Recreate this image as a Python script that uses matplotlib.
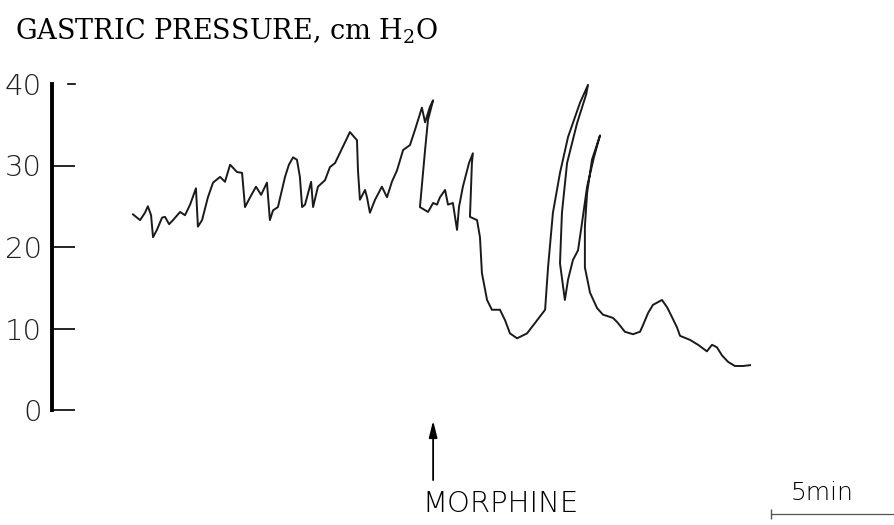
import matplotlib

matplotlib.use("Agg")
import matplotlib.pyplot as plt
import matplotlib.transforms as mtransforms

plt.rcParams["mathtext.fontset"] = "dejavuserif"

# gastric pressure trace (time in min from trace start, cm H2O)
# the pen writes on an arc, so time runs backwards a little on the fast down strokes
time_min = [
    0.00, 0.29, 0.49, 0.61, 0.74, 0.82, 0.98, 1.19, 1.31, 1.48, 1.64, 1.93, 2.13, 2.34,
    2.58, 2.66, 2.83, 3.07, 3.28, 3.57, 3.77, 3.98, 4.26, 4.47, 4.59, 4.80, 5.04, 5.25,
    5.49, 5.61, 5.74, 5.94, 6.23, 6.39, 6.56, 6.72, 6.84, 6.93, 7.05, 7.30, 7.38, 7.58,
    7.87, 8.07, 8.28, 8.57, 8.89, 9.18, 9.22, 9.30, 9.51, 9.59, 9.71, 9.92, 10.20, 10.41,
    10.61, 10.82, 11.07, 11.35, 11.56, 11.84, 11.97, 12.17, 12.30, 12.09, 11.97, 11.76,
    12.09, 12.30, 12.46, 12.58, 12.79, 12.91, 13.11, 13.28, 13.36, 13.52, 13.77, 13.93,
    13.89, 13.81, 14.10, 14.22, 14.30, 14.51, 14.71, 15.04, 15.25, 15.45, 15.74, 16.15,
    16.56, 16.89, 17.01, 17.21, 17.50, 17.83, 18.32, 18.65, 18.57, 18.20, 17.79, 17.58,
    17.50, 17.70, 17.83, 18.03, 18.24, 18.40, 18.61, 18.89, 19.14, 18.81, 18.61, 18.52,
    18.52, 18.73, 19.02, 19.26, 19.67, 19.84, 20.16, 20.49, 20.78, 20.90, 21.11, 21.31,
    21.68, 21.89, 22.09, 22.30, 22.42, 22.83, 23.16, 23.52, 23.73, 23.93, 24.14, 24.39,
    24.67, 25.00, 25.29,
]
pressure = [
    24.0, 23.3, 24.2, 25.0, 23.9, 21.2, 22.1, 23.6, 23.7, 22.8, 23.3, 24.3, 23.9, 25.2,
    27.2, 22.5, 23.3, 26.1, 27.9, 28.6, 28.0, 30.1, 29.2, 29.1, 24.9, 26.1, 27.4, 26.4,
    27.9, 23.3, 24.5, 24.9, 28.6, 30.1, 31.0, 30.7, 28.6, 24.9, 25.2, 28.0, 24.9, 27.4,
    28.2, 29.8, 30.3, 32.1, 34.1, 33.1, 29.4, 25.8, 27.0, 26.1, 24.2, 25.8, 27.4, 26.1,
    28.0, 29.4, 31.9, 32.5, 34.4, 37.1, 35.3, 37.2, 38.0, 35.6, 31.9, 24.9,
    24.3, 25.4, 25.2, 26.1, 27.0, 25.2, 25.4, 22.1, 24.9, 27.4, 30.3, 31.5,
    30.3, 23.7, 23.3, 21.2, 16.8, 13.5, 12.3, 12.3, 11.0, 9.4, 8.8, 9.4,
    11.0, 12.3, 17.5, 24.2, 29.1, 33.5, 37.7, 39.9, 38.7, 35.2, 30.3, 24.2,
    18.0, 13.5, 16.0, 18.4, 19.6, 22.9, 27.4, 31.0, 33.7, 30.7, 26.6, 22.5,
    17.5, 14.4, 12.5, 11.7, 11.3, 10.8, 9.6, 9.3, 9.6, 10.4, 11.9, 12.9,
    13.5, 12.6, 11.4, 10.1, 9.1, 8.6, 8.0, 7.2, 8.0, 7.7, 6.7, 5.9,
    5.4, 5.4, 5.5,
]

y_ticks = [0, 10, 20, 30, 40]
morphine_time = 12.30
scale_start = 26.15
scale_length = 5

fig = plt.figure(figsize=(8.95, 5.25), dpi=100)
ax = fig.add_axes([52 / 895, 115 / 525, 843 / 895, 326 / 525])

ax.plot(time_min, pressure, color="#1a1a1a", lw=1.4, solid_joinstyle="round")

ax.set_xlim(-3.32, 31.23)
ax.set_ylim(0, 40)
for side in ("top", "right", "bottom"):
    ax.spines[side].set_visible(False)
ax.spines["left"].set_linewidth(2.8)
ax.set_xticks([])
ax.set_yticks(y_ticks)
ax.set_yticklabels([str(v) for v in y_ticks], family="DejaVu Sans", fontweight="light",
                   fontsize=21, color="#222222")
ax.tick_params(axis="y", direction="in", length=16.5, width=1.2, pad=7)
# the 40 mark is only a short loose dash
ax.yaxis.get_major_ticks()[-1].tick1line.set_visible(False)
blend = mtransforms.blended_transform_factory(ax.transAxes, ax.transData)
ax.plot([0.019, 0.027], [40, 40], color="black", lw=1.2, transform=blend, clip_on=False)

fig.text(15 / 895, 1 - 39 / 525, r"GASTRIC PRESSURE, cm H$_\mathrm{2}$O",
         family="DejaVu Serif", fontsize=19.5, va="baseline", ha="left")

# morphine marker
ax.annotate("", xy=(morphine_time, -1.3), xytext=(morphine_time, -8.6),
            arrowprops=dict(arrowstyle="-|>,head_width=0.25,head_length=1.0", lw=1.3,
                            color="black", shrinkA=0, shrinkB=0),
            annotation_clip=False)
ax.text(morphine_time - 0.46, -12.5, "MORPHINE", fontsize=21, va="baseline", ha="left",
        fontweight="light", color="black", clip_on=False)

# time scale bar
ax.plot([scale_start, scale_start + scale_length], [-12.8, -12.8], color="#555555", lw=0.9,
        marker="|", markevery=[0], markersize=7, clip_on=False)
ax.text(scale_start + 2.1, -11.0, "5min", fontsize=18, va="baseline", ha="center",
        fontweight="light", color="black", clip_on=False)

fig.savefig("out.png", dpi=100)
